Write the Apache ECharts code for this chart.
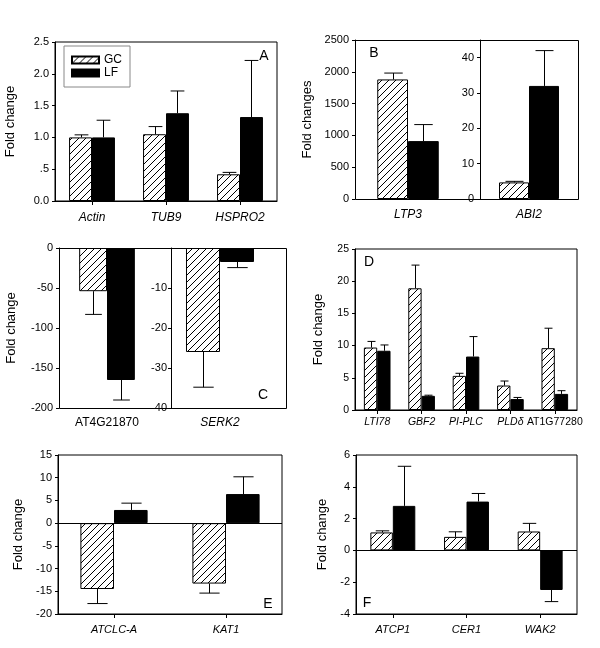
<!DOCTYPE html>
<html>
<head>
<meta charset="utf-8">
<script src="https://cdn.jsdelivr.net/npm/echarts@6/dist/echarts.min.js"></script>
<style>
  html, body { margin: 0; padding: 0; background: #fff; }
  #chart { width: 600px; height: 648px; }
</style>
</head>
<body>
<div id="chart"></div>
<script>
// A
const catsA = ['Actin', 'TUB9', 'HSPRO2'];
const gcA = [1.0, 1.05, 0.42];
const gcErrA = [0.04, 0.12, 0.03];
const lfA = [1.0, 1.38, 1.32];
const lfErrA = [0.27, 0.35, 0.89];

// B (two scales)
const catsB1 = ['LTP3'];
const gcB1 = [1880];
const gcErrB1 = [100];
const lfB1 = [910];
const lfErrB1 = [260];
const catsB2 = ['ABI2'];
const gcB2 = [4.7];
const gcErrB2 = [0.3];
const lfB2 = [32];
const lfErrB2 = [10];

// C (two scales)
const catsC1 = ['AT4G21870'];
const gcC1 = [-54];
const gcErrC1 = [29];
const lfC1 = [-165];
const lfErrC1 = [25];
const catsC2 = ['SERK2'];
const gcC2 = [-26];
const gcErrC2 = [8.8];
const lfC2 = [-3.5];
const lfErrC2 = [1.4];

// D
const catsD = ['LTI78', 'GBF2', 'PI-PLC', 'PLDδ', 'AT1G77280'];
const gcD = [9.7, 18.9, 5.3, 3.8, 9.6];
const gcErrD = [0.95, 3.6, 0.4, 0.7, 3.1];
const lfD = [9.2, 2.2, 8.3, 1.7, 2.5];
const lfErrD = [0.9, 0.1, 3.1, 0.25, 0.5];

// E
const catsE = ['ATCLC-A', 'KAT1'];
const gcE = [-14.5, -13.3];
const gcErrE = [3.2, 2.1];
const lfE = [2.9, 6.4];
const lfErrE = [1.5, 3.8];

// F
const catsF = ['ATCP1', 'CER1', 'WAK2'];
const gcF = [1.13, 0.85, 1.19];
const gcErrF = [0.1, 0.32, 0.51];
const lfF = [2.8, 3.07, -2.49];
const lfErrF = [2.49, 0.51, 0.73];

const uprightNames = ['AT4G21870', 'AT1G77280'];
const font = 'Liberation Sans, Arial, sans-serif';

// diagonal hatch for GC bars
function makeHatch() {
  const s = 7;
  const c = document.createElement('canvas');
  c.width = s; c.height = s;
  const g = c.getContext('2d');
  g.fillStyle = '#fff';
  g.fillRect(0, 0, s, s);
  g.strokeStyle = '#000';
  g.lineWidth = 1;
  g.beginPath();
  g.moveTo(-1, s + 1); g.lineTo(s + 1, -1);
  g.moveTo(-1, 1); g.lineTo(1, -1);
  g.moveTo(s - 1, s + 1); g.lineTo(s + 1, s - 1);
  g.stroke();
  return c;
}
const hatch = { image: makeHatch(), repeat: 'repeat' };

function errRender(frac, side) {
  return function (params, api) {
    const i = api.value(0), v = api.value(1), e = api.value(2);
    const end = v >= 0 ? v + e : v - e;
    const a = api.coord([i, v]);
    const b = api.coord([i, end]);
    const bw = api.size([1, 0])[0] * frac;
    const x = Math.round(a[0] + side * bw / 2) + 0.5;
    const h = Math.max(3, bw * 0.3);
    const st = { stroke: '#000', lineWidth: 1 };
    return {
      type: 'group',
      children: [
        { type: 'line', shape: { x1: x, y1: a[1], x2: x, y2: b[1] }, style: st },
        { type: 'line', shape: { x1: x - h, y1: b[1], x2: x + h, y2: b[1] }, style: st }
      ]
    };
  };
}

const grids = [], xAxes = [], yAxes = [], series = [];

function addPanel(p) {
  const gi = grids.length;
  grids.push(Object.assign({ containLabel: false }, p.grid,
    p.frame ? { show: true, borderColor: '#000', borderWidth: 1 } : {}));
  xAxes.push({
    type: 'category',
    gridIndex: gi,
    data: p.cats.map(n => ({ value: n, textStyle: { fontStyle: uprightNames.includes(n) ? 'normal' : 'italic' } })),
    axisLine: { show: p.xLine !== false, lineStyle: { color: '#000', width: 1 }, onZero: false },
    axisTick: { show: p.xTick !== false, alignWithLabel: true, length: 4, lineStyle: { color: '#000' } },
    axisLabel: { interval: 0, color: '#000', fontFamily: font, fontSize: p.xFont || 12, margin: p.xMargin || 10 },
    splitLine: { show: false }
  });
  yAxes.push({
    type: 'value',
    gridIndex: gi,
    min: p.min, max: p.max, interval: p.interval,
    name: p.yName || '',
    nameLocation: 'middle',
    nameGap: p.nameGap || 38,
    nameTextStyle: { color: '#000', fontFamily: font, fontSize: 13 },
    axisLine: { show: true, lineStyle: { color: '#000', width: 1 } },
    axisTick: { show: true, length: 3, lineStyle: { color: '#000' } },
    axisLabel: Object.assign({ color: '#000', fontFamily: font, fontSize: p.yFont || 11, margin: 6,
      formatter: v => String(v) }, p.yLabel || {}),
    splitLine: { show: false }
  });
  const w = p.frac * 100 + '%';
  const gcBar = {
    type: 'bar', name: 'GC', xAxisIndex: gi, yAxisIndex: gi,
    data: p.gc, barWidth: w, barGap: '0%',
    itemStyle: { color: hatch, borderColor: '#000', borderWidth: 1 }
  };
  if (p.zeroLine) {
    gcBar.markLine = {
      silent: true, symbol: 'none', label: { show: false },
      lineStyle: { color: '#000', type: 'solid', width: 1 },
      data: [{ yAxis: 0 }]
    };
  }
  series.push(gcBar);
  series.push({
    type: 'bar', name: 'LF', xAxisIndex: gi, yAxisIndex: gi,
    data: p.lf, barWidth: w, barGap: '0%',
    itemStyle: { color: '#000', borderColor: '#000', borderWidth: 1 }
  });
  series.push({
    type: 'custom', xAxisIndex: gi, yAxisIndex: gi, z: 5, silent: true,
    renderItem: errRender(p.frac, -1),
    encode: { x: 0, y: 1 },
    data: p.gc.map((v, i) => [i, v, p.gcErr[i]])
  });
  series.push({
    type: 'custom', xAxisIndex: gi, yAxisIndex: gi, z: 5, silent: true,
    renderItem: errRender(p.frac, 1),
    encode: { x: 0, y: 1 },
    data: p.lf.map((v, i) => [i, v, p.lfErr[i]])
  });
}

// A
addPanel({
  grid: { left: 55, top: 42, width: 222, height: 159 }, frame: true,
  cats: catsA, gc: gcA, gcErr: gcErrA, lf: lfA, lfErr: lfErrA,
  min: 0, max: 2.5, interval: 0.5, frac: 0.31,
  yName: 'Fold change', nameGap: 38, xMargin: 11,
  yLabel: { formatter: v => v === 0 ? '0.0' : (v === 0.5 ? '.5' : v.toFixed(1)) }
});
// B left
addPanel({
  grid: { left: 355, top: 40, width: 106, height: 159 },
  cats: catsB1, gc: gcB1, gcErr: gcErrB1, lf: lfB1, lfErr: lfErrB1,
  min: 0, max: 2500, interval: 500, frac: 0.29, xTick: false, xLine: false,
  yName: 'Fold changes', nameGap: 41, xMargin: 10
});
// B right
addPanel({
  grid: { left: 480, top: 40, width: 98, height: 159 },
  cats: catsB2, gc: gcB2, gcErr: gcErrB2, lf: lfB2, lfErr: lfErrB2,
  min: 0, max: 45, interval: 10, frac: 0.306, xTick: false, xLine: false,
  xMargin: 10, yLabel: { showMaxLabel: false }
});
// C left
addPanel({
  grid: { left: 59, top: 248, width: 96, height: 160 },
  cats: catsC1, gc: gcC1, gcErr: gcErrC1, lf: lfC1, lfErr: lfErrC1,
  min: -200, max: 0, interval: 50, frac: 0.29, xTick: false, xLine: false,
  yName: 'Fold change', nameGap: 41, xMargin: 9
});
// C right
addPanel({
  grid: { left: 171, top: 248, width: 98, height: 160 },
  cats: catsC2, gc: gcC2, gcErr: gcErrC2, lf: lfC2, lfErr: lfErrC2,
  min: -40, max: 0, interval: 10, frac: 0.347, xTick: false, xLine: false,
  xMargin: 9, yLabel: { showMaxLabel: false, margin: 4 }
});
// D
addPanel({
  grid: { left: 355, top: 249, width: 222, height: 161 }, frame: true,
  cats: catsD, gc: gcD, gcErr: gcErrD, lf: lfD, lfErr: lfErrD,
  min: 0, max: 25, interval: 5, frac: 0.30,
  yName: 'Fold change', nameGap: 30, xFont: 10.5, yFont: 10.5, xMargin: 7
});
// E
addPanel({
  grid: { left: 58, top: 455, width: 224, height: 159 }, frame: true,
  cats: catsE, gc: gcE, gcErr: gcErrE, lf: lfE, lfErr: lfErrE,
  min: -20, max: 15, interval: 5, frac: 0.30, zeroLine: true,
  yName: 'Fold change', nameGap: 33, xFont: 11, xMargin: 10
});
// F
addPanel({
  grid: { left: 356, top: 455, width: 221, height: 159 }, frame: true,
  cats: catsF, gc: gcF, gcErr: gcErrF, lf: lfF, lfErr: lfErrF,
  min: -4, max: 6, interval: 2, frac: 0.305, zeroLine: true,
  yName: 'Fold change', nameGap: 27, xFont: 11, xMargin: 10
});

function letter(t, x, y) {
  return {
    type: 'text', x: x, y: y, z: 10,
    style: { text: t, fill: '#000', font: '14px ' + font, textAlign: 'center', textVerticalAlign: 'middle' }
  };
}
function frameRect(x, y, w, h) {
  return {
    type: 'rect', z: 10, silent: true,
    shape: { x: x + 0.5, y: y + 0.5, width: w, height: h },
    style: { fill: 'none', stroke: '#000', lineWidth: 1 }
  };
}

const chart = echarts.init(document.getElementById('chart'), null, { renderer: 'canvas' });
chart.setOption({
  animation: false,
  backgroundColor: '#fff',
  grid: grids,
  xAxis: xAxes,
  yAxis: yAxes,
  series: series,
  legend: {
    data: ['GC', 'LF'],
    orient: 'vertical',
    left: 64, top: 46,
    padding: [8, 8, 8, 7],
    itemGap: 1,
    itemWidth: 27, itemHeight: 7,
    icon: 'rect',
    borderColor: '#888', borderWidth: 1,
    selectedMode: false,
    textStyle: { color: '#000', fontFamily: font, fontSize: 12, lineHeight: 12 }
  },
  graphic: [
    frameRect(355, 40, 223, 159),
    frameRect(59, 248, 227, 160),
    letter('A', 264, 56),
    letter('B', 374, 53),
    letter('C', 263, 395),
    letter('D', 369, 262),
    letter('E', 268, 604),
    letter('F', 367, 603)
  ]
});
</script>
</body>
</html>
